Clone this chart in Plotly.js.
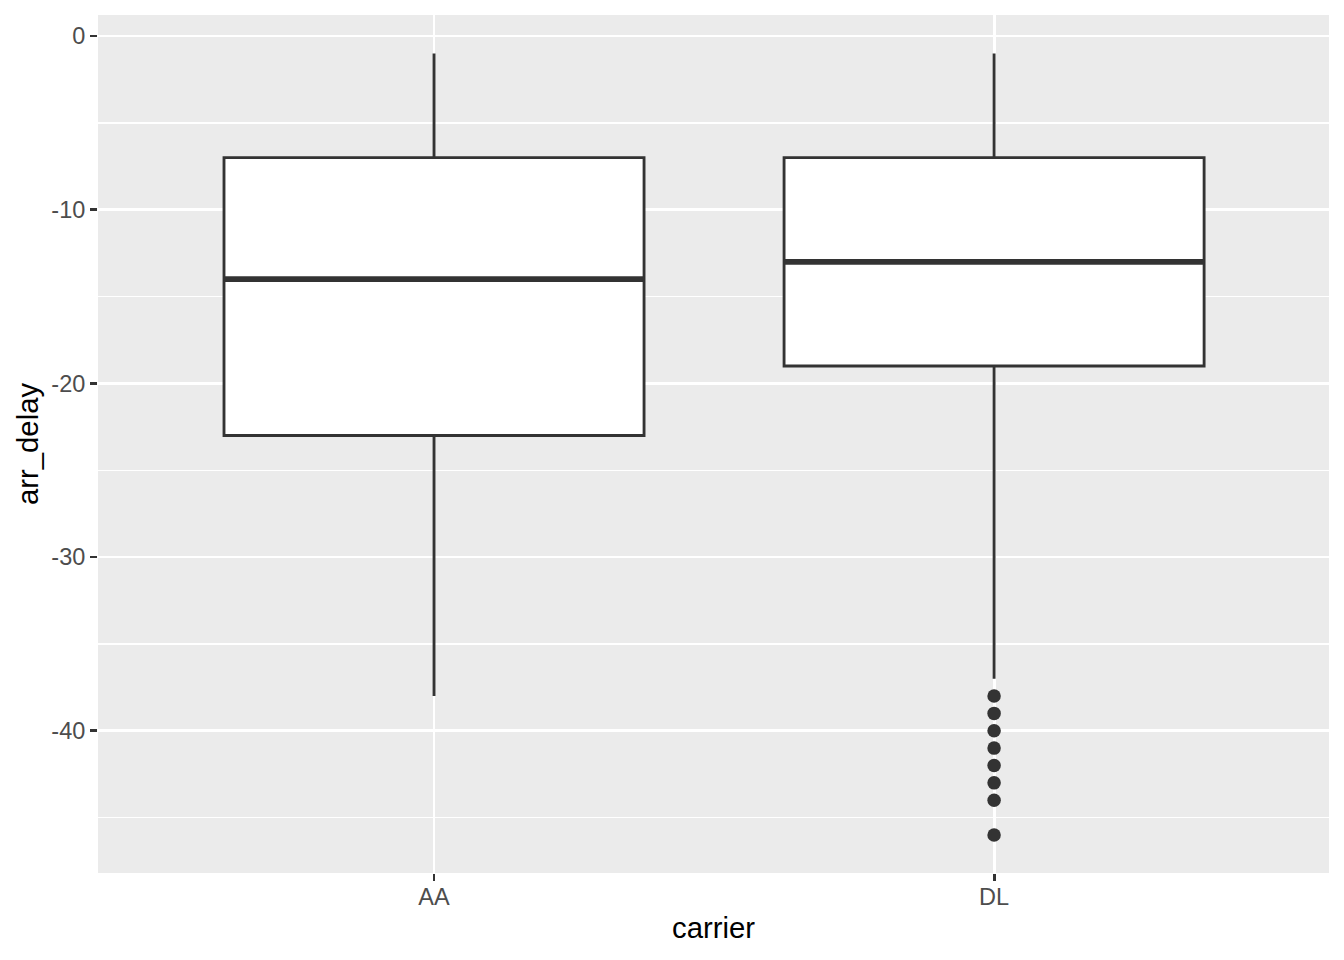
<!DOCTYPE html>
<html>
<head>
<meta charset="utf-8">
<script src="https://cdn.plot.ly/plotly-3.0.1.min.js"></script>
<style>html,body{margin:0;padding:0;background:#fff;}#chart{width:1344px;height:960px;}</style>
</head>
<body>
<div id="chart"></div>
<script>
// Data
const carriers = ['AA', 'DL'];
const upperWhisker = [-1, -1];
const q3 = [-7, -7];
const medians = [-14, -13];
const q1 = [-23, -19];
const lowerWhisker = [-38, -37];
const outlierCarrier = ['DL', 'DL', 'DL', 'DL', 'DL', 'DL', 'DL', 'DL'];
const outlierDelay = [-38, -39, -40, -41, -42, -43, -44, -46];
const yTicks = [0, -10, -20, -30, -40];

const pos = carriers.map((c, i) => i);
const boxWidth = 0.75;
const dark = '#333333';

const boxTrace = {
  type: 'box',
  x: pos,
  q1: q1, median: medians, q3: q3,
  lowerfence: lowerWhisker, upperfence: upperWhisker,
  width: boxWidth,
  boxpoints: false,
  whiskerwidth: 0,
  fillcolor: '#FFFFFF',
  line: {color: dark, width: 2.85},
  showlegend: false,
  hoverinfo: 'skip'
};

const mx = [], my = [];
pos.forEach((p, i) => {
  mx.push(p - boxWidth / 2, p + boxWidth / 2, null);
  my.push(medians[i], medians[i], null);
});
const medianTrace = {
  type: 'scatter', mode: 'lines', x: mx, y: my,
  line: {color: dark, width: 5.7},
  showlegend: false, hoverinfo: 'skip'
};

const outTrace = {
  type: 'scatter', mode: 'markers',
  x: outlierCarrier.map(c => carriers.indexOf(c)),
  y: outlierDelay,
  marker: {color: dark, size: 13.5, line: {width: 0}},
  showlegend: false, hoverinfo: 'skip'
};

const layout = {
  width: 1344, height: 960,
  margin: {l: 98, r: 15, t: 15, b: 87},
  paper_bgcolor: '#FFFFFF',
  plot_bgcolor: '#EBEBEB',
  font: {family: '"Liberation Sans", Arial, sans-serif', color: '#4D4D4D'},
  showlegend: false,
  xaxis: {
    range: [-0.6, 1.598],
    tickmode: 'array', tickvals: pos, ticktext: carriers,
    showgrid: true, gridcolor: '#FFFFFF', gridwidth: 2.85,
    zeroline: false, showline: false,
    ticks: 'outside', ticklen: 7, tickwidth: 2.85, tickcolor: dark,
    ticklabelstandoff: -4,
    tickfont: {size: 23.5, color: '#4D4D4D'},
    title: {text: 'carrier', font: {size: 29.3, color: '#000000'}, standoff: 8},
    automargin: false
  },
  yaxis: {
    range: [-48.19, 1.21],
    tickmode: 'array', tickvals: yTicks, ticktext: yTicks.map(String),
    showgrid: true, gridcolor: '#FFFFFF', gridwidth: 2.85,
    minor: {tickmode: 'linear', tick0: 0, dtick: 5, showgrid: true, gridcolor: '#FFFFFF', gridwidth: 1.42, ticks: ''},
    zeroline: false, showline: false,
    ticks: 'outside', ticklen: 7, tickwidth: 2.85, tickcolor: dark,
    tickfont: {size: 23.5, color: '#4D4D4D'},
    title: {text: 'arr_delay', font: {size: 29.3, color: '#000000'}, standoff: 4},
    automargin: false
  }
};

Plotly.newPlot('chart', [boxTrace, medianTrace, outTrace], layout, {staticPlot: true, displayModeBar: false});
</script>
</body>
</html>
